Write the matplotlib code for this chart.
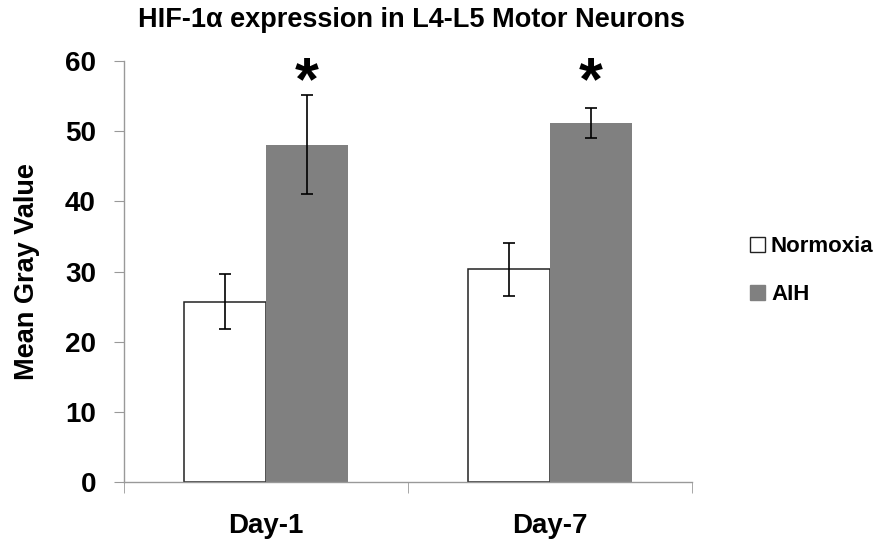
import numpy as np
import matplotlib.pyplot as plt
from matplotlib.lines import Line2D

# data
days = ['Day-1', 'Day-7']
normoxia = [25.7, 30.3]
normoxia_err = [3.9, 3.8]
aih = [48.1, 51.2]
aih_err = [7.1, 2.1]
significant = [True, True]

plt.rcParams['font.family'] = ['Liberation Sans', 'DejaVu Sans']

fig = plt.figure(figsize=(8.84, 5.41), dpi=100)
ax = fig.add_axes([0.140, 0.109, 0.6425, 0.778])

x = np.arange(len(days))
w = 0.288

ax.bar(x - w / 2, normoxia, w, color='white', edgecolor='#222222', linewidth=1.1,
       label='Normoxia', zorder=2)
ax.bar(x + w / 2, aih, w, color='#808080', edgecolor='none', label='AIH', zorder=2)
ax.errorbar(x - w / 2, normoxia, yerr=normoxia_err, fmt='none', ecolor='black',
            elinewidth=1.2, capsize=4.5, capthick=1.2, zorder=3)
ax.errorbar(x + w / 2, aih, yerr=aih_err, fmt='none', ecolor='black',
            elinewidth=1.2, capsize=4.5, capthick=1.2, zorder=3)

# significance stars above the AIH bars
for xi, sig in zip(x, significant):
    if sig:
        ax.text(xi + w / 2, 54.6, '*', ha='center', va='baseline',
                fontsize=44, fontweight='bold', color='black', clip_on=False)

ax.set_xlim(-0.5, len(days) - 0.5)
ax.set_ylim(0, 60)
ax.set_yticks(range(0, 61, 10))
ax.set_xticks(x)
ax.set_xticklabels(days, fontsize=20, fontweight='bold')
ax.set_xticks(np.arange(-0.5, len(days)), minor=True)
ax.tick_params(axis='x', which='major', length=0, pad=22)
ax.tick_params(axis='x', which='minor', length=8, color='#999999')
ax.tick_params(axis='y', length=7, color='#999999', labelsize=20, pad=13)
for lab in ax.get_yticklabels():
    lab.set_fontweight('bold')

for s in ['top', 'right']:
    ax.spines[s].set_visible(False)
for s in ['left', 'bottom']:
    ax.spines[s].set_color('#999999')
    ax.spines[s].set_linewidth(1.0)

ax.set_ylabel('Mean Gray Value', fontsize=19.5, fontweight='bold')
ax.yaxis.set_label_coords(-0.147, 0.5)
fig.text(0.466, 0.963, 'HIF-1\u03b1 expression in L4-L5 Motor Neurons',
         ha='center', va='center', fontsize=19.5, fontweight='bold')

handles = [
    Line2D([], [], marker='s', linestyle='none', markersize=10.8,
           markerfacecolor='white', markeredgecolor='#222222', markeredgewidth=1.0),
    Line2D([], [], marker='s', linestyle='none', markersize=10.8,
           markerfacecolor='#808080', markeredgecolor='#808080'),
]
leg = fig.legend(handles, ['Normoxia', 'AIH'], loc='center left',
                 bbox_to_anchor=(0.847, 0.500), frameon=False, handlelength=0.75,
                 handletextpad=0.25, labelspacing=1.2, borderpad=0, borderaxespad=0,
                 prop={'size': 16, 'weight': 'bold'})

fig.savefig('out.png', dpi=100)
